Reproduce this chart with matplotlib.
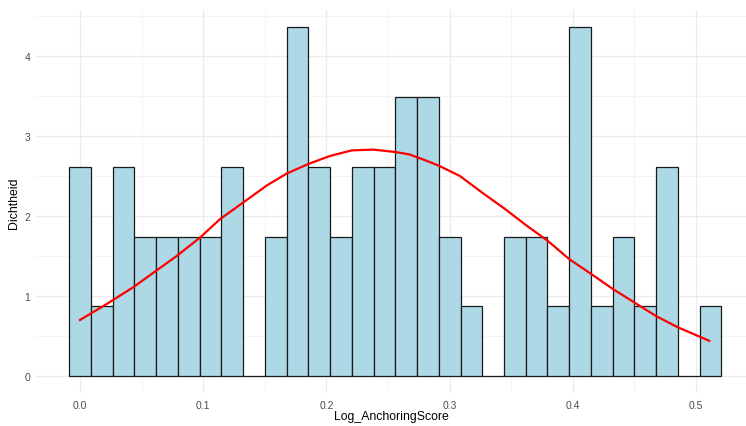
import numpy as np
import matplotlib
matplotlib.use("Agg")
import matplotlib.pyplot as plt
from matplotlib.ticker import MultipleLocator

plt.rcParams['font.family'] = ['Liberation Sans', 'DejaVu Sans']

# ------- histogram: 30 bins, counts per bin (n = 65) -------
n_total = 65
bin_start = -0.00883
bin_width = 0.01765
counts = [3, 1, 3, 2, 2, 2, 2, 3, 0, 2,
          5, 3, 2, 3, 3, 4, 4, 2, 1, 0,
          2, 2, 1, 5, 1, 2, 1, 3, 0, 1]

# ------- density curve -------
dens_x = [0.0, 0.0217, 0.0433, 0.0622, 0.0785, 0.0974, 0.1136, 0.1326, 0.1515,
          0.1677, 0.1853, 0.2029, 0.2205, 0.2380, 0.2559, 0.2673, 0.2780,
          0.2911, 0.3084, 0.3266, 0.3439, 0.3617, 0.3796, 0.3972, 0.4145,
          0.4323, 0.4499, 0.4675, 0.4851, 0.5108]
dens_y = [0.70, 0.90, 1.11, 1.32, 1.50, 1.73, 1.96, 2.17, 2.38,
          2.53, 2.65, 2.75, 2.82, 2.83, 2.80, 2.77, 2.71,
          2.63, 2.50, 2.29, 2.10, 1.89, 1.69, 1.46, 1.28,
          1.09, 0.92, 0.75, 0.61, 0.44]

counts = np.array(counts)
lefts = bin_start + bin_width * np.arange(len(counts))
density = counts / (n_total * bin_width)

fig = plt.figure(figsize=(7.46, 4.27), dpi=100)
ax = fig.add_axes([36 / 746, (427 - 394.4) / 427, 710 / 746, 383 / 427])

ax.bar(lefts, density, width=bin_width, align='edge',
       color='#ADD8E6', edgecolor='#1a1a1a', linewidth=0.9, zorder=2)
ax.plot(dens_x, dens_y, color='red', linewidth=1.6, zorder=3)

ax.set_xlim(-0.0357, 0.5406)
ax.set_ylim(-0.2175, 4.57)

ax.xaxis.set_major_locator(MultipleLocator(0.1))
ax.xaxis.set_minor_locator(MultipleLocator(0.05))
ax.yaxis.set_major_locator(MultipleLocator(1))
ax.yaxis.set_minor_locator(MultipleLocator(0.5))
ax.set_xticks([0.0, 0.1, 0.2, 0.3, 0.4, 0.5])
ax.set_xticklabels(['0.0', '0.1', '0.2', '0.3', '0.4', '0.5'])

ax.grid(which='major', color='#EBEBEB', linewidth=1.0, zorder=0)
ax.grid(which='minor', color='#F2F2F2', linewidth=0.6, zorder=0)
ax.set_axisbelow(True)

for s in ax.spines.values():
    s.set_visible(False)
ax.tick_params(which='both', length=0, labelsize=7.5, labelcolor='#4D4D4D')
ax.tick_params(axis='x', pad=4.5)
ax.tick_params(axis='y', pad=4)

ax.set_xlabel("Log_AnchoringScore", fontsize=8.8, color='black', labelpad=0.5)
ax.set_ylabel("Dichtheid", fontsize=8.8, color='black', labelpad=3)

fig.savefig("out.png", dpi=100)
